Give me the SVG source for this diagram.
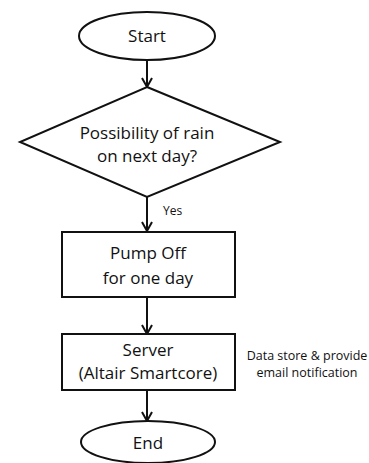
<svg xmlns="http://www.w3.org/2000/svg" width="369" height="463" viewBox="0 0 369 463">
  <style>
    .shape { fill: #ffffff; stroke: #111111; stroke-width: 2; }
    .edge { fill: none; stroke: #111111; stroke-width: 2; }
    .head { fill: none; stroke: #111111; stroke-width: 2; stroke-linejoin: miter; }
    .label { font-family: "Open Sans", "Liberation Sans", sans-serif; font-size: 17px; fill: #111111; text-anchor: middle; }
    .note { font-family: "Open Sans", "Liberation Sans", sans-serif; font-size: 12.5px; fill: #111111; text-anchor: middle; }
    .yes { font-family: "Open Sans", "Liberation Sans", sans-serif; font-size: 12px; fill: #111111; }
  </style>
  <rect width="369" height="463" fill="#ffffff"/>

  <g id="connectors">
    <line class="edge" x1="147" y1="60" x2="147" y2="87"/>
    <polyline class="head" points="142,78 147,87 152,78"/>
    <line class="edge" x1="147" y1="197" x2="147" y2="231"/>
    <polyline class="head" points="142,222 147,231 152,222"/>
    <line class="edge" x1="147" y1="297" x2="147" y2="334"/>
    <polyline class="head" points="142,325 147,334 152,325"/>
    <line class="edge" x1="147" y1="390" x2="147" y2="421"/>
    <polyline class="head" points="142,412 147,421 152,412"/>
    <text class="yes" x="163" y="215">Yes</text>
  </g>

  <g id="start">
    <ellipse class="shape" cx="147" cy="36" rx="68" ry="24"/>
    <text class="label" x="147" y="42">Start</text>
  </g>

  <g id="decision">
    <polygon class="shape" points="147,87 280,142 147,197 20,142"/>
    <text class="label" x="147" y="139">Possibility of rain</text>
    <text class="label" x="147" y="162">on next day?</text>
  </g>

  <g id="pump">
    <rect class="shape" x="62" y="232" width="173" height="65"/>
    <text class="label" x="148" y="259">Pump Off</text>
    <text class="label" x="148" y="284">for one day</text>
  </g>

  <g id="server">
    <rect class="shape" x="62" y="334" width="173" height="56"/>
    <text class="label" x="148" y="356">Server</text>
    <text class="label" x="148" y="379">(Altair Smartcore)</text>
  </g>

  <g id="note">
    <text class="note" x="307" y="360">Data store &amp; provide</text>
    <text class="note" x="307" y="377">email notification</text>
  </g>

  <g id="end">
    <ellipse class="shape" cx="148" cy="442" rx="67" ry="21"/>
    <text class="label" x="148" y="449">End</text>
  </g>
</svg>
